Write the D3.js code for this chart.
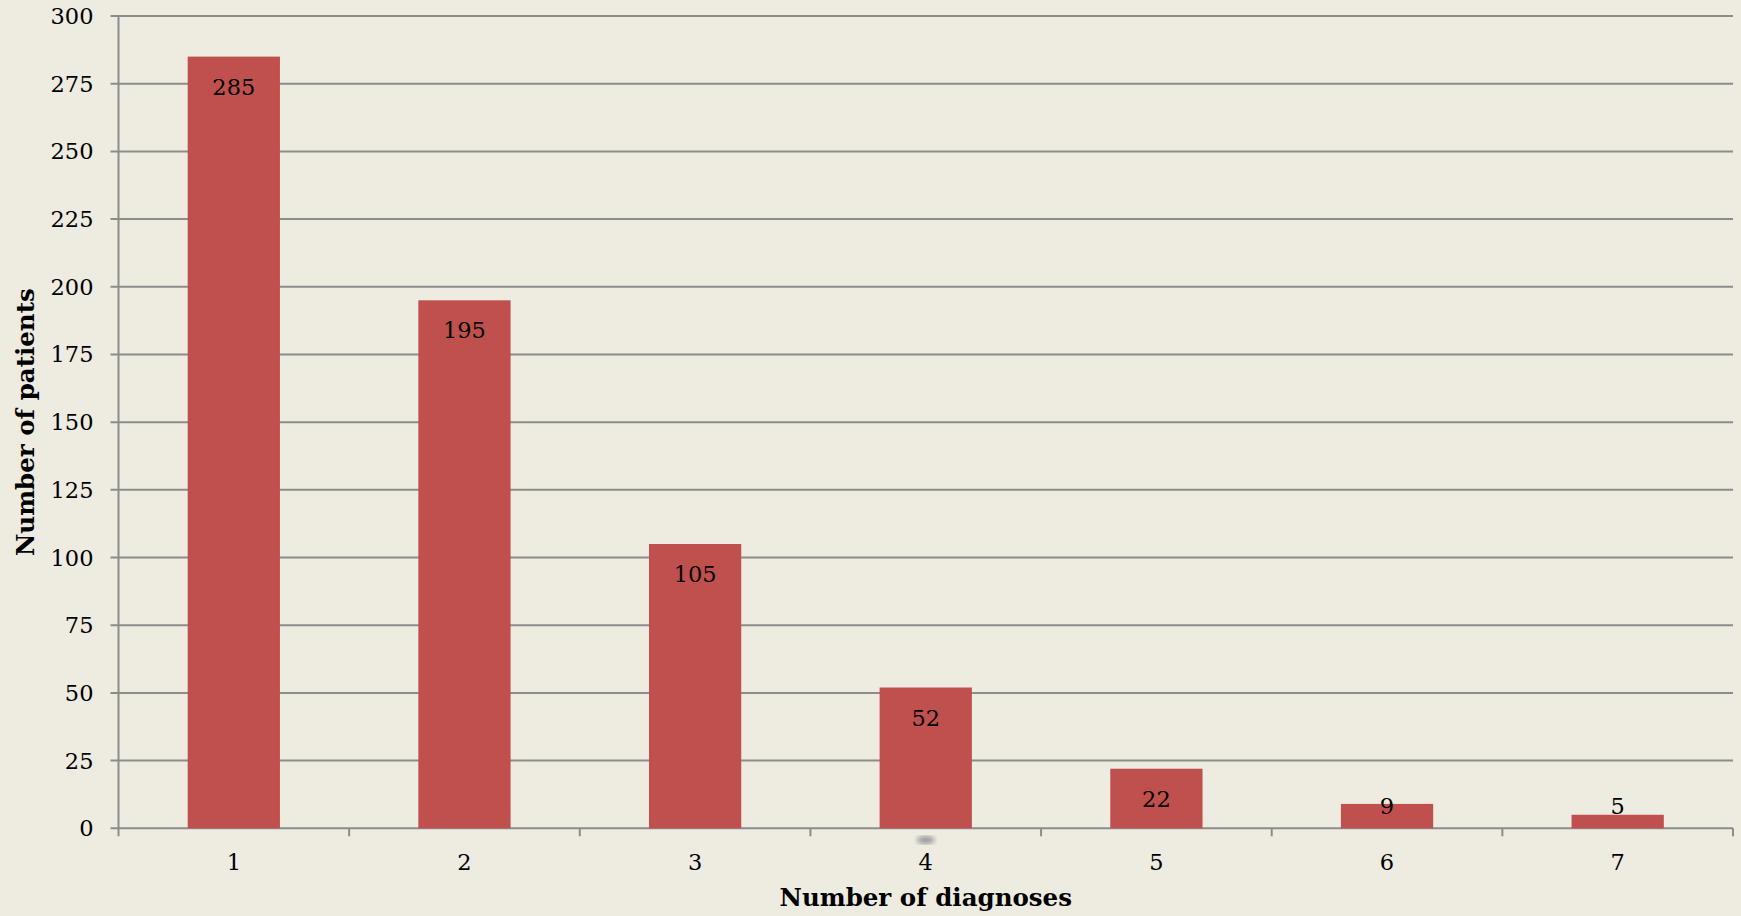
<!DOCTYPE html>
<html>
<head>
<meta charset="utf-8">
<script src="https://cdn.jsdelivr.net/npm/d3@7"></script>
<style>
  html, body { margin: 0; padding: 0; background: #EEEBE0; }
  svg { display: block; }
  text { font-family: Georgia, "DejaVu Serif", serif; fill: #000; }
</style>
</head>
<body>
<svg id="chart" width="1741" height="916"></svg>
<script>
// Patients grouped by how many diagnoses they received
const categories = ["1", "2", "3", "4", "5", "6", "7"];
const patients = [285, 195, 105, 52, 22, 9, 5];
const yTicks = [0, 25, 50, 75, 100, 125, 150, 175, 200, 225, 250, 275, 300];

const svg = d3.select("#chart");
const plotLeft = 118.5, plotRight = 1733, plotTop = 16, plotBottom = 828.3;

const x = d3.scaleBand().domain(categories).range([plotLeft, plotRight])
  .paddingInner(0.6).paddingOuter(0.3);
const y = d3.scaleLinear().domain([0, 300]).range([plotBottom, plotTop]);

const gridColor = "#8c8c8c";
const labelSize = 22.5;

// horizontal gridlines with their small outward ticks
svg.append("g").selectAll("line").data(yTicks).join("line")
  .attr("x1", plotLeft - 8).attr("x2", plotRight)
  .attr("y1", d => y(d)).attr("y2", d => y(d))
  .attr("stroke", gridColor).attr("stroke-width", 2);

// value axis line
svg.append("line")
  .attr("x1", plotLeft).attr("x2", plotLeft)
  .attr("y1", plotTop).attr("y2", plotBottom + 8)
  .attr("stroke", gridColor).attr("stroke-width", 2);

// category boundary ticks under the baseline
const step = x.step();
const boundaries = d3.range(1, categories.length + 1).map(i => plotLeft + i * step);
svg.append("g").selectAll("line").data(boundaries).join("line")
  .attr("x1", d => d).attr("x2", d => d)
  .attr("y1", plotBottom).attr("y2", plotBottom + 8)
  .attr("stroke", gridColor).attr("stroke-width", 2);

// y tick labels
svg.append("g").selectAll("text").data(yTicks).join("text")
  .attr("x", plotLeft - 25).attr("y", d => y(d))
  .attr("text-anchor", "end").attr("dominant-baseline", "central")
  .attr("font-size", labelSize)
  .text(d => d);

// bars
svg.append("g").selectAll("rect").data(patients).join("rect")
  .attr("x", (d, i) => x(categories[i]))
  .attr("y", d => y(d))
  .attr("width", x.bandwidth())
  .attr("height", d => y(0) - y(d))
  .attr("fill", "#C0504D");

// value labels at the inner end of each bar
svg.append("g").selectAll("text").data(patients).join("text")
  .attr("x", (d, i) => x(categories[i]) + x.bandwidth() / 2)
  .attr("y", d => Math.min(y(d) + 30, y(0) - 22))
  .attr("text-anchor", "middle").attr("dominant-baseline", "central")
  .attr("font-size", labelSize)
  .text(d => d);

// category labels
svg.append("g").selectAll("text").data(categories).join("text")
  .attr("x", d => x(d) + x.bandwidth() / 2)
  .attr("y", 862)
  .attr("text-anchor", "middle").attr("dominant-baseline", "central")
  .attr("font-size", labelSize)
  .text(d => d);

// soft grey smudge below the fourth bar
const defs = svg.append("defs");
defs.append("filter").attr("id", "soft")
  .append("feGaussianBlur").attr("stdDeviation", 2.5);
svg.append("ellipse")
  .attr("cx", x("4") + x.bandwidth() / 2).attr("cy", 840)
  .attr("rx", 9).attr("ry", 4)
  .attr("fill", "#9a9a9a").attr("filter", "url(#soft)");

// axis titles
svg.append("text")
  .attr("x", (plotLeft + plotRight) / 2).attr("y", 906)
  .attr("text-anchor", "middle")
  .attr("font-size", 24.5).attr("font-weight", "bold")
  .text("Number of diagnoses");

svg.append("text")
  .attr("transform", `translate(34, ${(plotTop + plotBottom) / 2}) rotate(-90)`)
  .attr("text-anchor", "middle")
  .attr("font-size", 24.5).attr("font-weight", "bold")
  .text("Number of patients");
</script>
</body>
</html>
